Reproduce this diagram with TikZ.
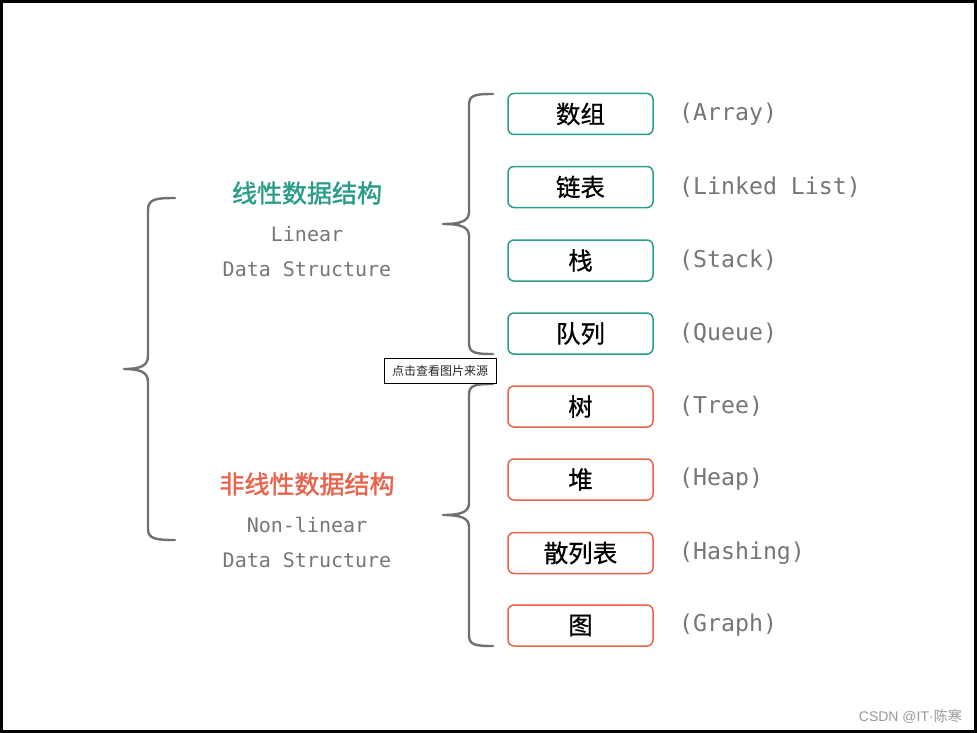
\documentclass[tikz,border=0pt]{standalone}
\usepackage{fontspec}
\newfontfamily\cjk{Noto Sans CJK SC}
\newfontfamily\cjkm{Noto Sans CJK SC}[FakeBold=0.6]
\newfontfamily\cjkb{Noto Sans CJK SC}[FakeBold=1.5]
\newfontfamily\monof{DejaVu Sans Mono}
\newfontfamily\wmlat{Liberation Sans}
\definecolor{lingreen}{HTML}{2A9D8A}
\definecolor{nlred}{HTML}{E8634A}
\definecolor{bracegray}{HTML}{707070}
\definecolor{txtgray}{HTML}{767676}
\definecolor{wmgray}{HTML}{9A9A9A}
\tikzset{
  dsbox/.style={draw, line width=1.5pt, rounded corners=6pt, minimum width=145pt, minimum height=41pt, inner sep=0pt, font=\cjkm\fontsize{24.5}{26}\selectfont, text=black},
  linbox/.style={dsbox, draw=lingreen},
  nlbox/.style={dsbox, draw=nlred},
  enlabel/.style={anchor=west, text=txtgray, font=\monof\fontsize{23.2}{25}\selectfont, inner sep=0pt},
  subtxt/.style={text=txtgray, font=\monof\fontsize{20}{22}\selectfont, inner sep=0pt},
  headtxt/.style={font=\cjkb\fontsize{25}{27}\selectfont, inner sep=0pt},
  bracestyle/.style={draw=bracegray, line width=2.4pt, line cap=round, line join=round},
}
\begin{document}
\begin{tikzpicture}[x=1pt, y=-1pt]
\useasboundingbox (0,0) rectangle (977,733);
\fill[white] (0,0) rectangle (977,733);
\draw[line width=2.6pt] (1.3,1.3) rectangle (975.7,731.7);

% big left brace
\coordinate (bt) at (175,198);
\coordinate (btip) at (124,369);
\coordinate (bb) at (175,540);
\draw[bracestyle] (bt) .. controls (156,198) and (148,199) .. (148,210) -- (148,356)
  .. controls (148,366) and (140,369) .. (btip)
  .. controls (140,369) and (148,372) .. (148,382) -- (148,529)
  .. controls (148,539) and (156,540) .. (bb);

% linear brace
\coordinate (lt) at (493,94);
\coordinate (ltip) at (443,224);
\coordinate (lb) at (493,354);
\draw[bracestyle] (lt) .. controls (475,94) and (469,95) .. (469,105) -- (469,212)
  .. controls (469,221) and (461,224) .. (ltip)
  .. controls (461,224) and (469,227) .. (469,236) -- (469,343)
  .. controls (469,353) and (475,354) .. (lb);

% nonlinear brace
\coordinate (nt) at (493,384);
\coordinate (ntip) at (443,515);
\coordinate (nb) at (493,646);
\draw[bracestyle] (nt) .. controls (475,384) and (469,385) .. (469,395) -- (469,503)
  .. controls (469,512) and (461,515) .. (ntip)
  .. controls (461,515) and (469,518) .. (469,527) -- (469,635)
  .. controls (469,645) and (475,646) .. (nb);

% left headings
\node[headtxt, text=lingreen] (linh) at (307,193) {线性数据结构};
\node[subtxt] (lin1) at (307,234) {Linear};
\node[subtxt] (lin2) at (307,269) {Data Structure};
\node[headtxt, text=nlred] (nlh) at (307,484) {非线性数据结构};
\node[subtxt] (nl1) at (307,525) {Non-linear};
\node[subtxt] (nl2) at (307,560) {Data Structure};

% boxes
\node[linbox] (arr) at (580.5,114) {数组};
\node[linbox] (lnk) at (580.5,187) {链表};
\node[linbox] (stk) at (580.5,260.5) {栈};
\node[linbox] (que) at (580.5,333.5) {队列};
\node[nlbox] (tree) at (580.5,406.5) {树};
\node[nlbox] (heap) at (580.5,479.5) {堆};
\node[nlbox] (hash) at (580.5,553) {散列表};
\node[nlbox] (graph) at (580.5,625.5) {图};

% english labels
\node[enlabel] (arrl) at (679,114) {(Array)};
\node[enlabel] (lnkl) at (679,187) {(Linked List)};
\node[enlabel] (stkl) at (679,260.5) {(Stack)};
\node[enlabel] (quel) at (679,333.5) {(Queue)};
\node[enlabel] (treel) at (679,406.5) {(Tree)};
\node[enlabel] (heapl) at (679,479.5) {(Heap)};
\node[enlabel] (hashl) at (679,553) {(Hashing)};
\node[enlabel] (graphl) at (679,625.5) {(Graph)};

% tooltip
\node[draw=black, line width=1pt, fill=white, minimum width=112pt, minimum height=25pt, inner sep=0pt, font=\cjk\fontsize{12}{13}\selectfont, text=black!85] (tip) at (440,370.5) {点击查看图片来源};

% watermark
\node[anchor=east, inner sep=0pt, text=wmgray, font=\cjk\fontsize{14}{15}\selectfont] (wm) at (962,717) {{\wmlat CSDN @IT\textperiodcentered}陈寒};
\end{tikzpicture}
\end{document}
